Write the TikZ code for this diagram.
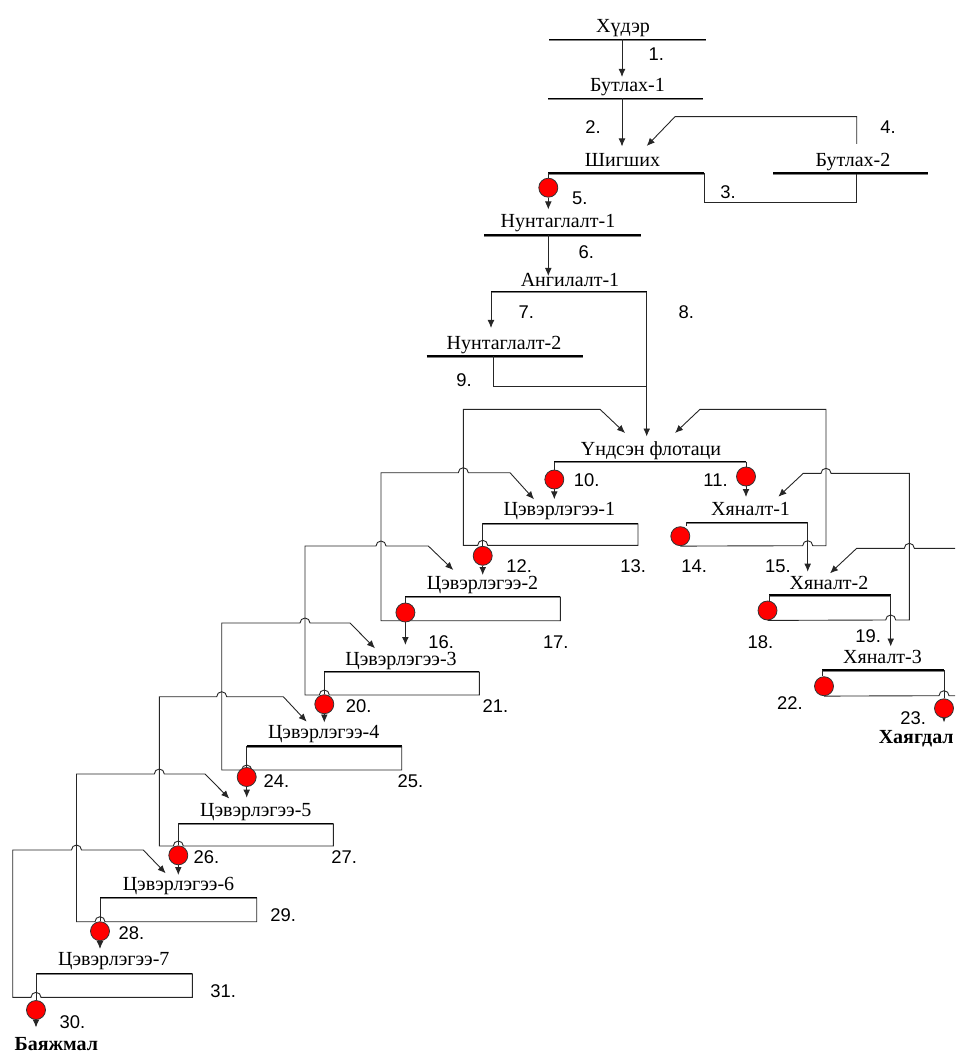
\documentclass[tikz,border=0pt]{standalone}
\usepackage{fontspec}
\setmainfont{Liberation Serif}
\newfontfamily\numfont{Liberation Sans}
\usetikzlibrary{arrows.meta,backgrounds}

\begin{document}
\begin{tikzpicture}[x=0.5pt,y=0.5pt,
        unitname/.style={font=\fontsize{10}{12}\selectfont, inner sep=0pt, anchor=base},
        outname/.style={font=\bfseries\fontsize{10}{12}\selectfont, inner sep=0pt, anchor=base},
        num/.style={font=\numfont\fontsize{9.2}{10}\selectfont, inner sep=0pt, anchor=base west},
        bar/.style={line width=0.75pt, postaction={draw=gray, line width=0.5pt, transform canvas={yshift=-0.6pt}}},
        pipe/.style={line width=0.45pt, draw=black!85},
        flow/.style={pipe, -{Latex[length=4pt,width=3.4pt]}},
        pump/.style={circle, draw=black!80, line width=0.4pt, fill=red, minimum size=9.5pt, inner sep=0pt}]

        \useasboundingbox (0,0) rectangle (955,-1053);

        % unit names
        \node[unitname] (ore) at (623,-32.5) {Хүдэр};
        \node[unitname] (cr1) at (627.5,-91.5) {Бутлах-1};
        \node[unitname] (scr) at (622.5,-166.7) {Шигших};
        \node[unitname] (cr2) at (853,-166.7) {Бутлах-2};
        \node[unitname] (gr1) at (558,-227.7) {Нунтаглалт-1};
        \node[unitname] (cls) at (570,-286.7) {Ангилалт-1};
        \node[unitname] (gr2) at (504,-349.3) {Нунтаглалт-2};
        \node[unitname] (rgh) at (651,-455) {Үндсэн флотаци};
        \node[unitname] (cl1) at (559.4,-515) {Цэвэрлэгээ-1};
        \node[unitname] (cl2) at (482.5,-589.3) {Цэвэрлэгээ-2};
        \node[unitname] (cl3) at (401,-665) {Цэвэрлэгээ-3};
        \node[unitname] (cl4) at (323.7,-738.3) {Цэвэрлэгээ-4};
        \node[unitname] (cl5) at (255.8,-816.7) {Цэвэрлэгээ-5};
        \node[unitname] (cl6) at (178.5,-890) {Цэвэрлэгээ-6};
        \node[unitname] (cl7) at (113.8,-965.7) {Цэвэрлэгээ-7};
        \node[unitname] (sc1) at (750.6,-515.5) {Хяналт-1};
        \node[unitname] (sc2) at (829,-589.3) {Хяналт-2};
        \node[unitname] (sc3) at (882.5,-663.3) {Хяналт-3};
        \node[outname] (conc) at (56.3,-1050) {Баяжмал};
        \node[outname] (tail) at (916.2,-743) {Хаягдал};

        % pumps
        \node[pump] (p5) at (548.3,-187.7) {};
        \node[pump] (p10) at (554.3,-479.5) {};
        \node[pump] (p11) at (746,-476.5) {};
        \node[pump] (p12) at (482.7,-555.8) {};
        \node[pump] (p16) at (405.4,-612.5) {};
        \node[pump] (p20) at (324.3,-704.2) {};
        \node[pump] (p24) at (246.7,-777) {};
        \node[pump] (p26) at (178.3,-855.3) {};
        \node[pump] (p28) at (100,-931.2) {};
        \node[pump] (p30) at (36,-1010) {};
        \node[pump] (p14) at (680.3,-536.2) {};
        \node[pump] (p18) at (767.5,-610.5) {};
        \node[pump] (p22) at (824,-686.2) {};
        \node[pump] (p23) at (944,-708.3) {};

        % inlets
        \coordinate (in-cr1) at (622,-77);
        \coordinate (in-scr) at (622,-146.5);
        \coordinate (in-scr2) at (646.7,-146);
        \coordinate (in-gr1) at (548.3,-209.5);
        \coordinate (in-cls) at (548.3,-276);
        \coordinate (in-gr2) at (491,-328);
        \coordinate (in-rgh) at (646.7,-436.5);
        \coordinate (in-rgh-l) at (625,-433);
        \coordinate (in-rgh-r) at (675,-433);
        \coordinate (in-cl1) at (554.3,-499.3);
        \coordinate (in-cl1-r) at (534,-499.3);
        \coordinate (in-cl2) at (482.7,-575);
        \coordinate (in-cl2-r) at (453.3,-570);
        \coordinate (in-cl3) at (405.4,-645);
        \coordinate (in-cl3-r) at (375,-648.3);
        \coordinate (in-cl4) at (324.3,-722.5);
        \coordinate (in-cl4-r) at (306.7,-721.7);
        \coordinate (in-cl5) at (246.7,-797.7);
        \coordinate (in-cl5-r) at (229.3,-798.5);
        \coordinate (in-cl6) at (178.3,-875);
        \coordinate (in-cl6-r) at (165.7,-873.3);
        \coordinate (in-cl7) at (100,-949);
        \coordinate (in-conc) at (36,-1027.5);
        \coordinate (in-sc1) at (746,-497);
        \coordinate (in-sc1-r) at (778.3,-496.7);
        \coordinate (in-sc2) at (807.7,-571.7);
        \coordinate (in-sc2-r) at (830,-573.3);
        \coordinate (in-sc3) at (890.7,-646.5);
        \coordinate (in-tail) at (944,-722.5);
        \coordinate (edge-a) at (955,-548.3);
        \coordinate (edge-b) at (955,-695.7);

        \begin{scope}[on background layer]
        % unit bars
        \draw[bar] (549,-39.5) coordinate (ore-a) -- (706,-39.5) coordinate (ore-b);
        \draw[bar] (548,-98.5) coordinate (cr1-a) -- (703,-98.5) coordinate (cr1-b);
        \draw[bar] (548.3,-173) coordinate (scr-a) -- (704.3,-173) coordinate (scr-b);
        \draw[bar] (773.3,-173) coordinate (cr2-a) -- (928.3,-173) coordinate (cr2-b);
        \draw[bar] (484,-235) coordinate (gr1-a) -- (640.7,-235) coordinate (gr1-b);
        \draw[bar] (491,-291.7) coordinate (cls-a) -- (646.7,-291.7) coordinate (cls-b);
        \draw[bar] (426.7,-356) coordinate (gr2-a) -- (582.7,-356) coordinate (gr2-b);
        \draw[bar] (554.3,-461.7) coordinate (rgh-a) -- (746,-461.7) coordinate (rgh-b);
        \draw[bar] (482.7,-523.3) coordinate (cl1-a) -- (638,-523.3) coordinate (cl1-b);
        \draw[bar] (405.4,-596.7) coordinate (cl2-a) -- (560.3,-596.7) coordinate (cl2-b);
        \draw[bar] (324.3,-671.7) coordinate (cl3-a) -- (479.3,-671.7) coordinate (cl3-b);
        \draw[bar] (246.7,-746) coordinate (cl4-a) -- (401.7,-746) coordinate (cl4-b);
        \draw[bar] (178.3,-823.3) coordinate (cl5-a) -- (333.3,-823.3) coordinate (cl5-b);
        \draw[bar] (100,-897.7) coordinate (cl6-a) -- (256.7,-897.7) coordinate (cl6-b);
        \draw[bar] (36,-973.3) coordinate (cl7-a) -- (192.3,-973.3) coordinate (cl7-b);
        \draw[bar] (686,-522.3) coordinate (sc1-a) -- (807.7,-522.3) coordinate (sc1-b);
        \draw[bar] (769.3,-595) coordinate (sc2-a) -- (890.7,-595) coordinate (sc2-b);
        \draw[bar] (822.3,-670) coordinate (sc3-a) -- (944,-670) coordinate (sc3-b);

        % crushing and screening
        \draw[flow] (in-cr1 |- ore-a) -- (in-cr1);
        \draw[flow] (in-scr |- cr1-a) -- (in-scr);
        \draw[pipe] (scr-b) -- (704.3,-202.7) -- (856.7,-202.7) -- (856.7,-174);
        \draw[flow] (856.7,-144) coordinate (cr2-o) -- (856.7,-116.7) -- (675,-116.7) -- (in-scr2);
        \draw[pipe] (scr-a) -- (p5.north);
        \draw[flow] (p5.south) -- (in-gr1);

        % grinding and classifying
        \draw[flow] (in-cls |- gr1-a) -- (in-cls);
        \draw[flow] (cls-a) -- (in-gr2);
        \draw[flow] (cls-b) -- (in-rgh);
        \draw[pipe] (493.3,-356) coordinate (gr2-o) -- (493.3,-386) -- (646.7,-386);

        % rougher
        \draw[pipe] (rgh-a) -- (p10.north);
        \draw[flow] (p10.south) -- (in-cl1);
        \draw[pipe] (rgh-b) -- (p11.north);
        \draw[flow] (p11.south) -- (in-sc1);

        % cleaners, froth down
        \draw[pipe] (cl1-a) -- (p12.north);
        \draw[flow] (p12.south) -- (in-cl2);
        \draw[pipe] (cl2-a) -- (p16.north);
        \draw[flow] (p16.south) -- (in-cl3);
        \draw[pipe] (cl3-a) -- (p20.north);
        \draw[flow] (p20.south) -- (in-cl4);
        \draw[pipe] (cl4-a) -- (p24.north);
        \draw[flow] (p24.south) -- (in-cl5);
        \draw[pipe] (cl5-a) -- (p26.north);
        \draw[flow] (p26.south) -- (in-cl6);
        \draw[pipe] (cl6-a) -- (p28.north);
        \draw[flow] (p28.south) -- (in-cl7);
        \draw[pipe] (cl7-a) -- (p30.north);
        \draw[flow] (p30.south) -- (in-conc);

        % cleaners, tailings back
        \draw[flow] (cl1-b) -- (638,-545.3) -- (487.7,-545.3) arc[start angle=0,end angle=180,radius=5]
            -- (463.3,-545.3) -- (463.3,-409.3) -- (600,-409.3) -- (in-rgh-l);
        \draw[flow] (cl2-b) -- (560.3,-620.7) -- (381,-620.7) -- (381,-472.7)
            -- (458.3,-472.7) arc[start angle=180,end angle=0,radius=5] -- (510,-472.7) -- (in-cl1-r);
        \draw[flow] (cl3-b) -- (479.3,-695) -- (329.3,-695) arc[start angle=0,end angle=180,radius=5]
            -- (305,-695) -- (305,-546) -- (376,-546) arc[start angle=180,end angle=0,radius=5]
            -- (428.3,-546) -- (in-cl2-r);
        \draw[flow] (cl4-b) -- (401.7,-770) -- (251.7,-770) arc[start angle=0,end angle=180,radius=5]
            -- (221.7,-770) -- (221.7,-623) -- (300,-623) arc[start angle=180,end angle=0,radius=5]
            -- (350,-623) -- (in-cl3-r);
        \draw[flow] (cl5-b) -- (333.3,-846) -- (183.3,-846) arc[start angle=0,end angle=180,radius=5]
            -- (159.3,-846) -- (159.3,-696.7) -- (216.7,-696.7) arc[start angle=180,end angle=0,radius=5]
            -- (283.3,-696.7) -- (in-cl4-r);
        \draw[flow] (cl6-b) -- (256.7,-921.7) -- (105,-921.7) arc[start angle=0,end angle=180,radius=5]
            -- (76.5,-921.7) -- (76.5,-774) -- (154.3,-774) arc[start angle=180,end angle=0,radius=5]
            -- (205,-774) -- (in-cl5-r);
        \draw[flow] (cl7-b) -- (192.3,-997.3) -- (41,-997.3) arc[start angle=0,end angle=180,radius=5]
            -- (12.7,-997.3) -- (12.7,-850) -- (71.5,-850) arc[start angle=180,end angle=0,radius=5]
            -- (143.3,-850) -- (in-cl6-r);

        % scavengers
        \draw[pipe] (sc1-a) -- (sc1-a |- p14.north);
        \draw[flow] (p14.south) -- (802.7,-545.7) arc[start angle=180,end angle=0,radius=5]
            -- (826,-545.7) -- (826,-409.3) -- (700,-409.3) -- (in-rgh-r);
        \draw[flow] (sc1-b) -- (in-sc2);
        \draw[pipe] (sc2-a) -- (sc2-a |- p18.north);
        \draw[flow] (p18.south) -- (885.7,-620) arc[start angle=180,end angle=0,radius=5]
            -- (909.3,-620) -- (909.3,-473.3) -- (831,-473.3) arc[start angle=0,end angle=180,radius=5]
            -- (803.3,-473.3) -- (in-sc1-r);
        \draw[flow] (edge-a) -- (914.3,-548.3) arc[start angle=0,end angle=180,radius=5]
            -- (856.7,-548.3) -- (in-sc2-r);
        \draw[flow] (sc2-b) -- (in-sc3);
        \draw[pipe] (sc3-a) -- (sc3-a |- p22.north);
        \draw[pipe] (p22.south) -- (939,-695.7) arc[start angle=180,end angle=0,radius=5] -- (edge-b);
        \draw[pipe] (sc3-b) -- (p23.north);
        \draw[flow] (p23.south) -- (in-tail);
        \end{scope}

        % stream numbers
        \node[num] (n1) at (648.3,-61) {1.};
        \node[num] (n2) at (585,-133.3) {2.};
        \node[num] (n3) at (720,-198.3) {3.};
        \node[num] (n4) at (880,-133.3) {4.};
        \node[num] (n5) at (571.7,-204.3) {5.};
        \node[num] (n6) at (578.3,-258.3) {6.};
        \node[num] (n7) at (518.3,-318.3) {7.};
        \node[num] (n8) at (678.3,-318.3) {8.};
        \node[num] (n9) at (456,-386) {9.};
        \node[num] (n10) at (573.4,-486) {10.};
        \node[num] (n11) at (703,-486) {11.};
        \node[num] (n12) at (506,-572.7) {12.};
        \node[num] (n13) at (620,-572.7) {13.};
        \node[num] (n14) at (681,-572.7) {14.};
        \node[num] (n15) at (764.8,-572) {15.};
        \node[num] (n16) at (428,-648.3) {16.};
        \node[num] (n17) at (542.6,-648.3) {17.};
        \node[num] (n18) at (747.3,-648.3) {18.};
        \node[num] (n19) at (855,-642.7) {19.};
        \node[num] (n20) at (345.4,-712.5) {20.};
        \node[num] (n21) at (482.3,-712.5) {21.};
        \node[num] (n22) at (776.7,-709.3) {22.};
        \node[num] (n23) at (900,-724) {23.};
        \node[num] (n24) at (263.3,-787.3) {24.};
        \node[num] (n25) at (397.3,-787.3) {25.};
        \node[num] (n26) at (193.3,-863.3) {26.};
        \node[num] (n27) at (331,-863.3) {27.};
        \node[num] (n28) at (118.3,-939.3) {28.};
        \node[num] (n29) at (270,-921.7) {29.};
        \node[num] (n30) at (59.3,-1028.3) {30.};
        \node[num] (n31) at (210,-997.3) {31.};
    \end{tikzpicture}
\end{document}
